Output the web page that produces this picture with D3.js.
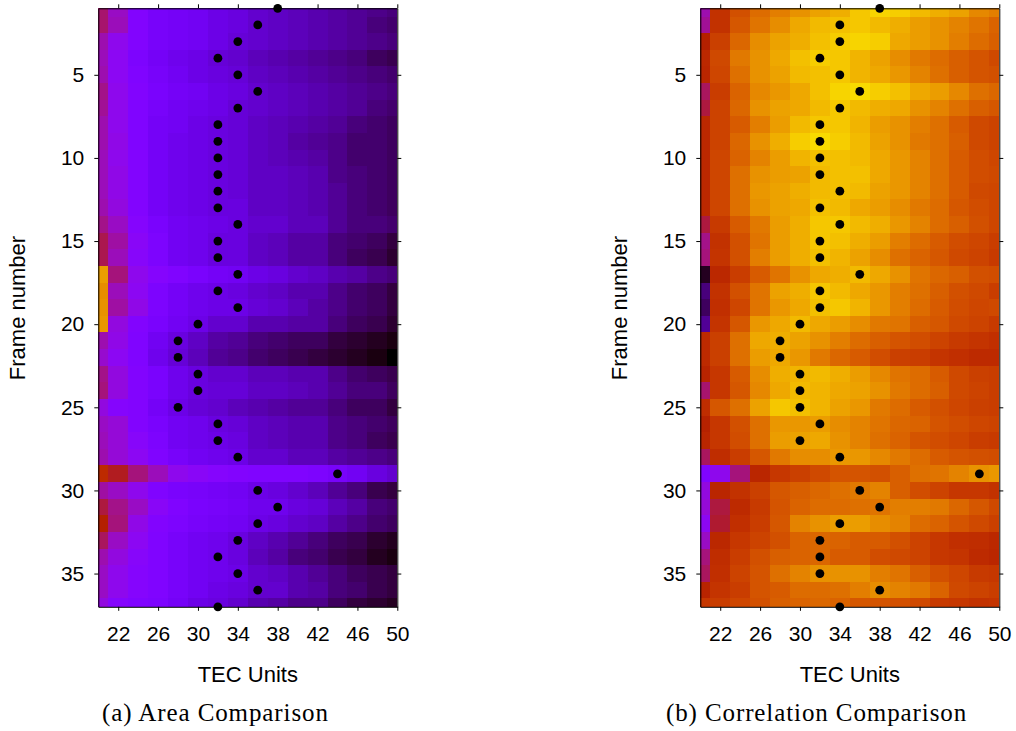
<!DOCTYPE html>
<html>
<head>
<meta charset="utf-8">
<script src="https://cdn.jsdelivr.net/npm/d3@7"></script>
<style>
  body { margin: 0; background: #fff; }
  svg { display: block; }
  text { font-family: "Liberation Sans", sans-serif; fill: #000; }
  .caption { font-family: "Liberation Serif", serif; letter-spacing: 0.9px; }
</style>
</head>
<body>
<div id="plot"></div>
<script>
const tecUnits = [20, 22, 24, 26, 28, 30, 32, 34, 36, 38, 40, 42, 44, 46, 48, 50];
const xTicks = [22, 26, 30, 34, 38, 42, 46, 50];
const yTicks = [5, 10, 15, 20, 25, 30, 35];

const areaValues = [
  [43,36,26,22,21,20,18,17,15,14,13,12,11,10,9,8],
  [43,37,26,22,21,20,18,17,15,14,13,12,11,10,8,7],
  [38,31,26,22,21,20,18,16,15,14,13,12,11,10,9,8],
  [37,30,24,21,19,18,16,15,13,12,11,10,9,8,6,5],
  [38,30,25,22,20,18,17,16,14,13,12,11,10,9,8,7],
  [41,31,26,23,21,20,18,17,15,14,13,12,11,10,9,8],
  [40,31,25,22,20,19,18,16,15,14,13,12,11,10,8,7],
  [38,31,25,21,20,18,17,16,14,13,12,11,10,8,7,6],
  [38,32,25,21,19,18,17,16,14,13,11,10,9,7,7,6],
  [37,31,26,21,19,18,17,16,14,13,12,11,9,7,7,6],
  [37,32,26,21,19,18,17,16,14,14,13,12,9,8,7,6],
  [37,32,26,21,19,18,17,16,14,14,13,12,10,8,7,6],
  [38,33,26,21,19,18,17,17,14,14,13,12,10,8,7,6],
  [41,36,27,23,20,19,18,17,15,15,13,13,10,8,8,7],
  [45,39,29,24,20,19,17,17,14,13,11,11,8,7,6,4],
  [45,37,28,24,20,19,17,17,14,13,11,11,8,6,5,3],
  [85,42,31,27,25,23,21,20,18,17,15,14,12,11,9,8],
  [82,37,30,24,21,19,18,17,15,14,12,12,9,7,6,4],
  [83,39,32,24,21,19,18,18,16,15,13,11,9,7,6,4],
  [84,33,26,23,20,18,15,15,12,12,11,11,8,6,5,3],
  [38,32,25,20,17,14,11,10,8,7,6,6,4,3,2,1],
  [35,30,25,19,16,13,10,9,7,6,5,4,3,2,1,0],
  [41,33,26,23,19,17,15,15,13,13,12,12,9,7,6,5],
  [42,33,26,23,19,17,16,16,14,14,13,12,10,8,8,6],
  [33,27,26,21,18,16,15,13,12,11,10,10,8,6,6,4],
  [36,34,26,23,20,19,17,16,14,13,12,12,9,8,7,6],
  [37,34,28,24,20,19,18,17,14,13,12,12,9,8,6,5],
  [38,34,30,25,22,20,19,18,15,15,13,13,11,10,9,8],
  [55,48,42,37,31,29,27,26,25,25,25,24,22,20,17,15],
  [39,36,31,25,23,22,21,20,18,17,15,13,10,8,5,4],
  [46,41,36,29,25,23,22,21,19,19,17,16,13,11,8,7],
  [50,42,32,26,24,22,21,20,18,17,15,14,11,9,7,6],
  [44,36,30,25,22,20,19,17,14,12,10,8,6,5,3,2],
  [38,33,28,25,22,20,19,17,13,11,8,7,5,4,2,1],
  [36,31,27,25,22,20,19,18,15,14,12,10,8,6,5,4],
  [36,31,27,25,22,20,18,17,15,15,12,11,8,7,5,4],
  [33,27,25,24,21,18,17,15,12,11,9,9,6,4,3,2]
];

const correlationValues = [
  [38,58,68,75,79,83,86,88,92,94,93,90,88,86,81,79],
  [40,58,70,77,82,87,90,91,92,90,88,85,83,80,77,73],
  [50,63,74,82,86,88,91,93,94,93,87,85,83,79,75,72],
  [54,66,78,83,87,91,93,92,89,86,82,78,75,72,69,66],
  [53,65,76,83,86,90,91,92,89,87,84,80,76,72,69,68],
  [44,62,73,81,84,87,91,94,95,93,91,87,85,81,76,74],
  [46,64,74,83,86,87,90,92,90,88,87,83,80,76,72,70],
  [54,64,71,79,85,90,92,92,89,85,83,79,76,71,66,64],
  [54,64,74,83,88,93,95,93,90,86,83,78,76,72,66,64],
  [54,65,73,80,85,89,91,91,90,87,84,80,76,71,67,65],
  [54,65,76,83,85,86,90,91,91,87,84,80,76,71,67,66],
  [54,65,76,84,86,88,90,91,90,86,84,80,76,71,66,65],
  [54,65,76,83,86,87,91,90,87,85,82,78,75,70,67,65],
  [46,61,71,78,85,88,92,92,90,88,84,80,75,72,68,65],
  [41,58,68,77,85,88,92,91,88,85,79,75,71,67,65,62],
  [42,59,68,79,85,88,91,89,86,82,76,73,70,66,64,61],
  [2,54,62,71,77,83,87,88,90,87,83,77,74,72,68,67],
  [8,58,68,77,86,88,92,90,87,84,79,76,72,68,66,62],
  [6,57,65,77,84,87,91,92,89,84,79,75,71,67,65,66],
  [10,59,70,84,87,90,87,85,82,78,77,72,70,66,64,61],
  [55,63,76,87,88,86,83,79,75,72,69,67,64,61,59,57],
  [55,63,76,85,87,84,78,74,71,67,63,62,59,57,55,55],
  [52,60,71,82,88,89,90,88,85,81,77,75,71,66,63,62],
  [43,60,70,81,87,90,89,87,86,83,78,75,72,66,64,62],
  [56,70,76,86,92,91,89,86,84,78,75,71,68,65,63,62],
  [51,60,68,76,84,84,85,82,80,77,74,73,69,67,65,64],
  [53,60,67,76,85,86,87,83,80,76,73,69,67,65,62,61],
  [44,56,62,70,78,82,82,84,84,81,78,75,71,69,68,67],
  [25,31,42,53,60,63,66,69,69,68,72,76,77,80,83,84],
  [33,53,58,63,70,72,74,76,78,80,72,67,64,60,60,58],
  [34,46,55,61,69,73,75,75,76,77,79,79,78,74,70,66],
  [30,47,57,62,70,80,83,85,85,82,80,75,73,69,66,63],
  [36,54,60,64,68,73,74,73,71,71,68,64,60,57,56,54],
  [42,56,62,68,72,73,74,71,71,67,66,64,60,59,55,53],
  [44,57,64,69,76,80,83,83,83,79,77,72,68,65,61,60],
  [52,59,62,69,71,75,75,76,79,82,80,78,73,66,64,62],
  [60,62,65,68,72,73,74,73,70,69,68,66,61,60,58,59]
];

// TEC value of the black dot for frames 1 to 37
const areaPeaks = [38,36,34,32,34,36,34,32,32,32,32,32,32,34,32,32,34,32,34,30,28,28,30,30,28,32,32,34,44,36,38,36,34,32,34,36,32];
const correlationPeaks = [38,34,34,32,34,36,34,32,32,32,32,34,32,34,32,32,36,32,32,30,28,28,30,30,30,32,30,34,48,36,38,34,32,32,32,38,34];

let width = 1016,
    height = 731;

let svg = d3.select('#plot')
  .append('svg')
    .attr('width', width)
    .attr('height', height);

// gnuplot default pm3d palette (rgbformulae 7,5,15)
let palette = function(t) {
  let r = Math.sqrt(t),
      g = t * t * t,
      b = Math.max(0, Math.sin(2 * Math.PI * t));
  return d3.rgb(r * 255, g * 255, b * 255).formatHex();
};
let color = d3.scaleSequential([0, 100], palette);

function drawPanel(left, values, peaks, caption) {
  let plotWidth = 299,
      top = 8.3,
      bottom = 606.8;

  // clamped so the first and last cells are cut at half width like the original
  let xScale = d3.scaleLinear().domain([20, 50]).range([left, left + plotWidth]).clamp(true);
  let yScale = d3.scaleLinear().domain([1, 37]).range([top, bottom]).clamp(true);

  let g = svg.append('g');

  values.forEach(function(row, i) {
    let frame = i + 1;
    g.selectAll(null)
      .data(row)
      .enter()
      .append('rect')
        .attr('x', (d, j) => xScale(tecUnits[j] - 1))
        .attr('y', yScale(frame - 0.5))
        .attr('width', (d, j) => xScale(tecUnits[j] + 1) - xScale(tecUnits[j] - 1))
        .attr('height', yScale(frame + 0.5) - yScale(frame - 0.5))
        .attr('fill', d => color(d))
        .attr('shape-rendering', 'crispEdges');
  });

  let xBottom = d3.axisBottom(xScale).tickValues(xTicks).tickSize(4).tickPadding(15).tickSizeOuter(0);
  let xTop = d3.axisTop(xScale).tickValues(xTicks).tickSize(4).tickFormat('').tickSizeOuter(0);
  let yLeft = d3.axisLeft(yScale).tickValues(yTicks).tickSize(4).tickPadding(10).tickSizeOuter(0);
  let yRight = d3.axisRight(yScale).tickValues(yTicks).tickSize(4).tickFormat('').tickSizeOuter(0);

  g.append('g').attr('transform', `translate(0,${bottom})`).call(xBottom);
  g.append('g').attr('transform', `translate(0,${top})`).call(xTop);
  g.append('g').attr('transform', `translate(${left},0)`).call(yLeft);
  g.append('g').attr('transform', `translate(${left + plotWidth},0)`).call(yRight);

  g.selectAll('.tick text')
    .attr('font-size', 21)
    .style('font-family', '"Liberation Sans", sans-serif');

  g.selectAll('.domain, .tick line')
    .attr('stroke', '#000')
    .attr('stroke-width', 1);

  g.selectAll('circle')
    .data(peaks)
    .enter()
    .append('circle')
      .attr('cx', d => xScale(d))
      .attr('cy', (d, i) => yScale(i + 1))
      .attr('r', 4.4)
      .attr('fill', '#000');

  g.append('text')
    .attr('x', left + plotWidth / 2)
    .attr('y', 682)
    .attr('text-anchor', 'middle')
    .attr('font-size', 22)
    .text('TEC Units');

  g.append('text')
    .attr('transform', `translate(${left - 73},308) rotate(-90)`)
    .attr('text-anchor', 'middle')
    .attr('font-size', 22)
    .text('Frame number');

  g.append('text')
    .attr('class', 'caption')
    .attr('x', caption.x)
    .attr('y', 721)
    .attr('text-anchor', 'middle')
    .attr('font-size', 25)
    .text(caption.label);
}

drawPanel(98.3, areaValues, areaPeaks, { x: 215.5, label: '(a) Area Comparison' });
drawPanel(700.3, correlationValues, correlationPeaks, { x: 816.5, label: '(b) Correlation Comparison' });
</script>
</body>
</html>
